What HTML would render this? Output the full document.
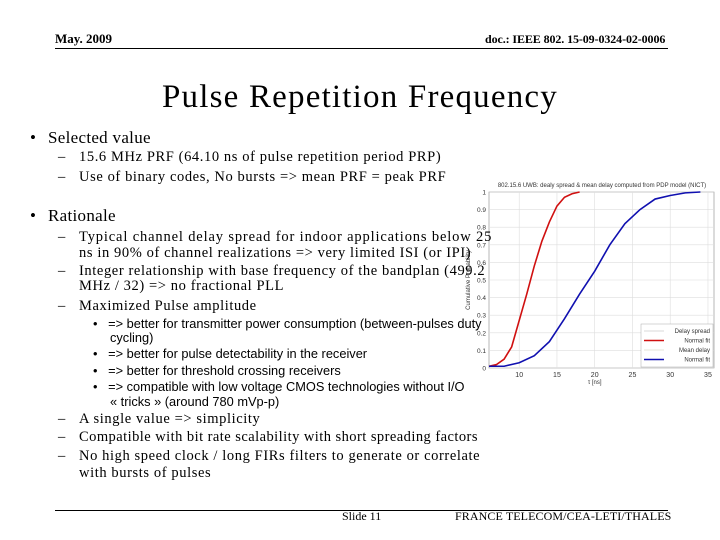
<!DOCTYPE html>
<html><head><meta charset="utf-8"><style>
body{margin:0;width:720px;height:540px;background:#fff;position:relative;overflow:hidden;font-family:"Liberation Serif",serif;color:#000}
.t{position:absolute;white-space:nowrap;line-height:1}
.s{font-family:"Liberation Sans",sans-serif;font-size:12.8px;letter-spacing:0px}
.m{font-size:14.5px;letter-spacing:0.6px}
.d{position:absolute;font-size:14.5px;line-height:1}
</style></head><body>
<svg id="chart" width="720" height="540" style="position:absolute;left:0;top:0" xmlns="http://www.w3.org/2000/svg"></svg>
<div class="t" style="left:55px;top:32px;font-size:13px;font-weight:bold">May. 2009</div>
<div class="t" style="left:485px;top:33px;font-size:12px;letter-spacing:-0.1px;font-weight:bold">doc.: IEEE 802. 15-09-0324-02-0006</div>
<div style="position:absolute;left:55px;top:48px;width:613px;height:1px;background:#000"></div>
<div class="t" style="left:0;width:720px;text-align:center;top:81px;font-size:33px;letter-spacing:1.2px">Pulse Repetition Frequency</div>
<div class="t" style="left:30px;top:129px;font-size:17px">•</div>
<div class="t" style="left:48px;top:129px;font-size:17px;letter-spacing:0.3px">Selected value</div>
<div class="d" style="left:58px;top:150px">–</div>
<div class="t m" style="left:79px;top:150px">15.6 MHz PRF (64.10 ns of pulse repetition period PRP)</div>
<div class="d" style="left:58px;top:170px">–</div>
<div class="t m" style="left:79px;top:170px">Use of binary codes, No bursts =&gt; mean PRF = peak PRF</div>
<div class="t" style="left:30px;top:207px;font-size:17px">•</div>
<div class="t" style="left:48px;top:207px;font-size:17px;letter-spacing:0.3px">Rationale</div>
<div class="d" style="left:58px;top:230px">–</div>
<div class="t m" style="left:79px;top:230px;letter-spacing:0.85px">Typical channel delay spread for indoor applications below 25</div>
<div class="t m" style="left:79px;top:246px">ns in 90% of channel realizations =&gt; very limited ISI (or IPI)</div>
<div class="d" style="left:58px;top:264px">–</div>
<div class="t m" style="left:79px;top:264px">Integer relationship with base frequency of the bandplan (499.2</div>
<div class="t m" style="left:79px;top:279px">MHz / 32) =&gt; no fractional PLL</div>
<div class="d" style="left:58px;top:299px">–</div>
<div class="t m" style="left:79px;top:299px">Maximized Pulse amplitude</div>
<div class="t s" style="left:93px;top:318px">•&nbsp;&nbsp; =&gt; better for transmitter power consumption (between-pulses duty</div>
<div class="t s" style="left:110px;top:332px">cycling)</div>
<div class="t s" style="left:93px;top:348px">•&nbsp;&nbsp; =&gt; better for pulse detectability in the receiver</div>
<div class="t s" style="left:93px;top:365px">•&nbsp;&nbsp; =&gt; better for threshold crossing receivers</div>
<div class="t s" style="left:93px;top:381px">•&nbsp;&nbsp; =&gt; compatible with low voltage CMOS technologies without I/O</div>
<div class="t s" style="left:110px;top:396px">« tricks » (around 780 mVp-p)</div>
<div class="d" style="left:58px;top:412px">–</div>
<div class="t m" style="left:79px;top:412px">A single value =&gt; simplicity</div>
<div class="d" style="left:58px;top:430px">–</div>
<div class="t m" style="left:79px;top:430px;letter-spacing:0.45px">Compatible with bit rate scalability with short spreading factors</div>
<div class="d" style="left:58px;top:449px">–</div>
<div class="t m" style="left:79px;top:449px">No high speed clock / long FIRs filters to generate or correlate</div>
<div class="t m" style="left:79px;top:466px">with bursts of pulses</div>
<div style="position:absolute;left:55px;top:510px;width:613px;height:1px;background:#000"></div>
<div class="t" style="left:342px;top:510px;font-size:12px">Slide 11</div>
<div class="t" style="left:455px;top:510px;font-size:12px;letter-spacing:0.1px">FRANCE TELECOM/CEA-LETI/THALES</div>
<script>
const xTicks=[10,15,20,25,30,35];
const yTicks=[0,0.1,0.2,0.3,0.4,0.5,0.6,0.7,0.8,0.9,1];
const redX=[6,7,8,9,10,11,12,13,14,15,16,17,18];
const redY=[0.01,0.02,0.05,0.12,0.27,0.42,0.58,0.72,0.83,0.92,0.97,0.99,1];
const blueX=[6,8,10,12,14,16,18,20,22,24,26,28,30,32,34];
const blueY=[0.01,0.01,0.03,0.07,0.15,0.28,0.42,0.55,0.7,0.82,0.9,0.96,0.98,0.995,1];
const X0=6,X1=35.8,PL=489,PR=714,PT=192,PB=368;
const sx=v=>PL+(v-X0)/(X1-X0)*(PR-PL);
const sy=v=>PB-v*(PB-PT);
const svg=document.getElementById('chart');
const NS='http://www.w3.org/2000/svg';
function mk(tag,at){const e=document.createElementNS(NS,tag);for(const k in at)e.setAttribute(k,at[k]);svg.appendChild(e);return e;}
let e=mk('rect',{x:PL,y:PT,width:PR-PL,height:PB-PT,fill:'#fff',stroke:'#888','stroke-width':0.6});


xTicks.forEach(v=>{
 let g=mk('line',{x1:sx(v),x2:sx(v),y1:PT,y2:PB,stroke:'#ddd','stroke-width':0.6});
 
 
 let t=mk('text',{x:sx(v),y:PB+9,'font-size':7,'text-anchor':'middle','font-family':'Liberation Sans, sans-serif',fill:'#333'});
 t.textContent=v;
 
 
});
yTicks.forEach(v=>{
 let g=mk('line',{x1:PL,x2:PR,y1:sy(v),y2:sy(v),stroke:'#ddd','stroke-width':0.6});
 
 
 let t=mk('text',{x:PL-3,y:sy(v)+2.5,'font-size':6.5,'text-anchor':'end','font-family':'Liberation Sans, sans-serif',fill:'#333'});
 t.textContent=v;
 
 
});
let tt=mk('text',{x:602,y:187,'font-size':6,'text-anchor':'middle','font-family':'Liberation Sans, sans-serif',fill:'#333'});
tt.textContent='802.15.6 UWB: dealy spread & mean delay computed from PDP model (NICT)';


let xl=mk('text',{x:sx(20),y:PB+16,'font-size':6,'text-anchor':'middle','font-family':'Liberation Sans, sans-serif',fill:'#333'});
xl.textContent='τ [ns]';


let yl=mk('text',{x:0,y:0,'font-size':6,'text-anchor':'middle','font-family':'Liberation Sans, sans-serif',fill:'#333',transform:'translate(470,280) rotate(-90)'});
yl.textContent='Cumulative Probability';


function line(xs,ys,col){return mk('polyline',{points:xs.map((x,i)=>sx(x)+','+sy(ys[i])).join(' '),fill:'none',stroke:col,'stroke-width':1.6});}
let r=line(redX,redY,'#d01010');


let b=line(blueX,blueY,'#1010b0');


let lg=mk('rect',{x:641,y:324,width:72,height:43,fill:'#fff',stroke:'#aaa','stroke-width':0.5});


[['Delay spread','#ccc'],['Normal fit','#d01010'],['Mean delay','#ddc'],['Normal fit','#1010b0']].forEach((d,i)=>{
 let y=331+i*9.5;
 let l=mk('line',{x1:644,x2:664,y1:y,y2:y,stroke:d[1],'stroke-width':i%2?1.6:0.8});
 
 
 let t=mk('text',{x:710,y:y+2,'font-size':6,'text-anchor':'end','font-family':'Liberation Sans, sans-serif',fill:'#333'});
 t.textContent=d[0];
 
 
});
</script>
</body></html>
